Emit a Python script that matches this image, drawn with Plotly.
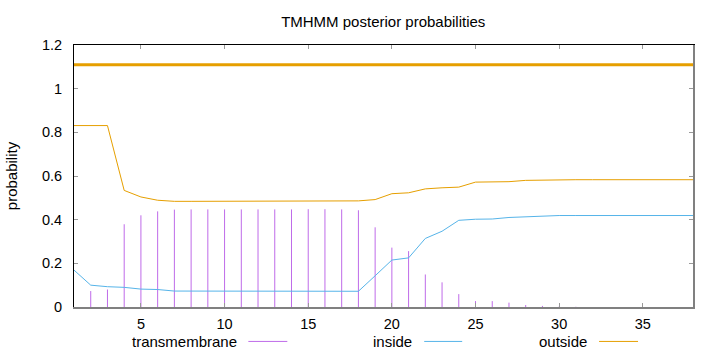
import plotly.graph_objects as go

# ---- data ----
positions = list(range(1, 39))
transmembrane = [0.0, 0.073, 0.080, 0.379, 0.420, 0.438, 0.446, 0.447, 0.447, 0.447,
                 0.447, 0.447, 0.447, 0.447, 0.448, 0.448, 0.447, 0.443, 0.365, 0.272,
                 0.256, 0.149, 0.113, 0.059, 0.027, 0.027, 0.020, 0.009, 0.005, 0.002,
                 0.001, 0.0, 0.0, 0.0, 0.0, 0.0, 0.0, 0.0]
inside = [0.169, 0.100, 0.093, 0.090, 0.082, 0.080, 0.073, 0.073, 0.073, 0.073,
          0.073, 0.073, 0.073, 0.073, 0.073, 0.073, 0.073, 0.072, 0.143, 0.215,
          0.225, 0.314, 0.347, 0.397, 0.402, 0.403, 0.410, 0.414, 0.418, 0.419,
          0.419, 0.419, 0.419, 0.419, 0.419, 0.419, 0.419, 0.419]
outside = [0.831, 0.831, 0.831, 0.534, 0.504, 0.489, 0.484, 0.484, 0.484, 0.484,
           0.484, 0.484, 0.484, 0.484, 0.484, 0.484, 0.485, 0.486, 0.492, 0.519,
           0.523, 0.541, 0.546, 0.549, 0.572, 0.573, 0.574, 0.580, 0.582, 0.583,
           0.583, 0.583, 0.583, 0.583, 0.583, 0.583, 0.583, 0.583]
topology_x = [1, 38]
topology_y = [1.11, 1.11]
x_ticks = [5, 10, 15, 20, 25, 30, 35]
y_ticks = [0, 0.2, 0.4, 0.6, 0.8, 1.0, 1.2]
y_tick_labels = ["0", "0.2", "0.4", "0.6", "0.8", "1", "1.2"]
series_names = ["transmembrane", "inside", "outside"]

# ---- style ----
FONT = "Liberation Sans, Arial, sans-serif"
FS = 15
C_TM = "#bf6be9"
C_IN = "#56B4E9"
C_OUT = "#E69F00"
W, H = 720, 352
L, R, T, B = 73.5, 27, 44.5, 45
plot_w = W - L - R
plot_h = H - T - B

# impulses (vertical lines from 0 to value) built from the data
imp_x, imp_y = [], []
for xv, yv in zip(positions, transmembrane):
    imp_x += [xv, xv, None]
    imp_y += [0, yv, None]

fig = go.Figure()
fig.add_trace(go.Scatter(x=imp_x, y=imp_y, mode="lines", name=series_names[0],
                         line=dict(color=C_TM, width=1), showlegend=False))
fig.add_trace(go.Scatter(x=positions, y=inside, mode="lines", name=series_names[1],
                         line=dict(color=C_IN, width=1), showlegend=False))
fig.add_trace(go.Scatter(x=positions, y=outside, mode="lines", name=series_names[2],
                         line=dict(color=C_OUT, width=1), showlegend=False))
fig.add_trace(go.Scatter(x=topology_x, y=topology_y, mode="lines", name="outside topology",
                         line=dict(color=C_OUT, width=3), showlegend=False))
# helper trace so the mirrored axes are drawn
fig.add_trace(go.Scatter(x=[None], y=[None], xaxis="x2", yaxis="y2", showlegend=False,
                         hoverinfo="skip"))

tick_common = dict(ticks="inside", ticklen=4, tickcolor="#999999", tickwidth=1,
                   showgrid=False, zeroline=False)

fig.update_layout(
    width=W, height=H,
    margin=dict(l=L, r=R, t=T, b=B, pad=0),
    paper_bgcolor="white", plot_bgcolor="white",
    font=dict(family=FONT, size=FS, color="#000000"),
    title=dict(text="TMHMM posterior probabilities", x=(L + plot_w / 2) / W, xanchor="center",
               y=1 - 21.5 / H, yanchor="middle", font=dict(size=FS)),
    xaxis=dict(range=[1, 38], tickvals=x_ticks, showline=True, linecolor="#808080",
               linewidth=2, ticklabelstandoff=3, tickfont=dict(size=FS - 0.5), **tick_common),
    xaxis2=dict(range=[1, 38], tickvals=x_ticks, overlaying="x", side="top", anchor="y",
                showline=True, linecolor="#000000", linewidth=1, showticklabels=False,
                **tick_common),
    yaxis=dict(range=[0, 1.2], tickvals=y_ticks, ticktext=y_tick_labels, showline=True,
               linecolor="#000000", linewidth=1, ticklabelstandoff=8,
               tickfont=dict(size=FS - 0.5),
               title=dict(text="probability", standoff=20, font=dict(size=FS)), **tick_common),
    yaxis2=dict(range=[0, 1.2], tickvals=y_ticks, overlaying="y", side="right", anchor="x",
                showline=True, linecolor="#808080", linewidth=2, showticklabels=False,
                **tick_common),
)

# ---- legend drawn gnuplot-style: text then line sample ----
legend_y_px = 341.5
legend_items = [(series_names[0], C_TM, 239, 248, 287),
                (series_names[1], C_IN, 414, 424, 462),
                (series_names[2], C_OUT, 589, 599, 638)]
py = 1 - (legend_y_px - T) / plot_h
for name, col, text_right, l0, l1 in legend_items:
    fig.add_annotation(text=name, xref="paper", yref="paper", x=(text_right - L) / plot_w,
                       y=py, xanchor="right", yanchor="middle", showarrow=False,
                       font=dict(size=FS))
    fig.add_shape(type="line", xref="paper", yref="paper", x0=(l0 - L) / plot_w,
                  x1=(l1 - L) / plot_w, y0=py, y1=py, line=dict(color=col, width=1))

fig.write_html("out.html")
